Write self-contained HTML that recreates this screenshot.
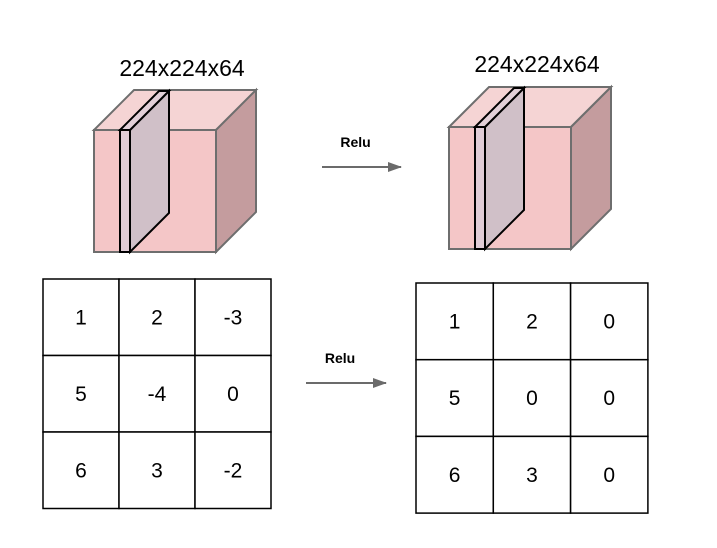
<!DOCTYPE html>
<html><head><meta charset="utf-8"><style>
html,body{margin:0;padding:0;background:#fff;}
svg{display:block;font-family:"Liberation Sans",Arial,sans-serif;}
</style></head><body>
<svg id="s" width="717" height="548" viewBox="0 0 717 548">
<defs><marker id="ah" markerWidth="14" markerHeight="10" refX="13" refY="5" orient="auto" markerUnits="userSpaceOnUse"><path d="M0,0 L14,5 L0,10 z" fill="#6b6b6b"/></marker></defs>
</svg>
<script>
const leftValues=[1,2,-3,5,-4,0,6,3,-2];
const rightValues=leftValues.map(v=>Math.max(0,v));
const cubeLabel="224x224x64";
const NS="http://www.w3.org/2000/svg";
const svg=document.getElementById('s');
function mk(tag,attrs,parent){const e=document.createElementNS(NS,tag);for(const k in attrs)e.setAttribute(k,attrs[k]);(parent||svg).appendChild(e);return e;}
function cube(ox,oy,name,lx,ly){
  const g=mk('g',{});
  
  
  const s=122,d=40,st='#6e6e6e';
  mk('polygon',{points:`${ox},${oy} ${ox+d},${oy-d} ${ox+s+d},${oy-d} ${ox+s},${oy}`,fill:'#f5d4d4',stroke:st,'stroke-width':2},g);
  mk('polygon',{points:`${ox+s},${oy} ${ox+s+d},${oy-d} ${ox+s+d},${oy+s-d} ${ox+s},${oy+s}`,fill:'#c49c9e',stroke:st,'stroke-width':2},g);
  mk('rect',{x:ox,y:oy,width:s,height:s,fill:'#f4c6c7',stroke:st,'stroke-width':2},g);
  const sx=ox+26,sw=10,sd=39;
  mk('polygon',{points:`${sx+sw},${oy} ${sx+sw+sd},${oy-sd} ${sx+sw+sd},${oy+s-sd} ${sx+sw},${oy+s}`,fill:'#d0c0c8',stroke:'#000','stroke-width':2},g);
  mk('polygon',{points:`${sx},${oy} ${sx+sd},${oy-sd} ${sx+sw+sd},${oy-sd} ${sx+sw},${oy}`,fill:'#e2d0d8',stroke:'#000','stroke-width':2},g);
  mk('rect',{x:sx,y:oy,width:sw,height:s,fill:'#e0ccd6',stroke:'#000','stroke-width':2},g);
  const t=mk('text',{x:lx,y:ly,'font-size':23,'text-anchor':'middle',fill:'#000'});
  t.textContent=cubeLabel;
  
  
}
cube(94,130,'input-volume',182,76);
cube(449,127,'output-volume',537,72);
function arrow(x1,x2,y,name){
  const l=mk('line',{x1:x1,y1:y,x2:x2,y2:y,stroke:'#6b6b6b','stroke-width':2,'marker-end':'url(#ah)'});
  
  
  const t=mk('text',{x:(x1+x2)/2-6,y:y-20,'font-size':14,'font-weight':'bold','text-anchor':'middle',fill:'#000'});
  t.textContent='Relu';
  
  
}
arrow(322,401,167,'relu-top');
arrow(306,386,383,'relu-bottom');
function grid(x0,y0,cw,ch,vals,name){
  const g=mk('g',{});
  
  
  vals.forEach((v,i)=>{
    const c=i%3,r=Math.floor(i/3);
    const x=x0+c*cw,y=y0+r*ch;
    const rc=mk('rect',{x:x,y:y,width:cw,height:ch,fill:'#fff',stroke:'#000','stroke-width':1.5},g);
    
    
    const t=mk('text',{x:x+cw/2,y:y+ch/2+7,'font-size':21,'text-anchor':'middle',fill:'#000'},g);
    t.textContent=String(v);
    
    
  });
}
grid(43,279,76,76.5,leftValues,'input-matrix');
grid(416,283,77.3,76.7,rightValues,'output-matrix');
</script>
</body></html>
